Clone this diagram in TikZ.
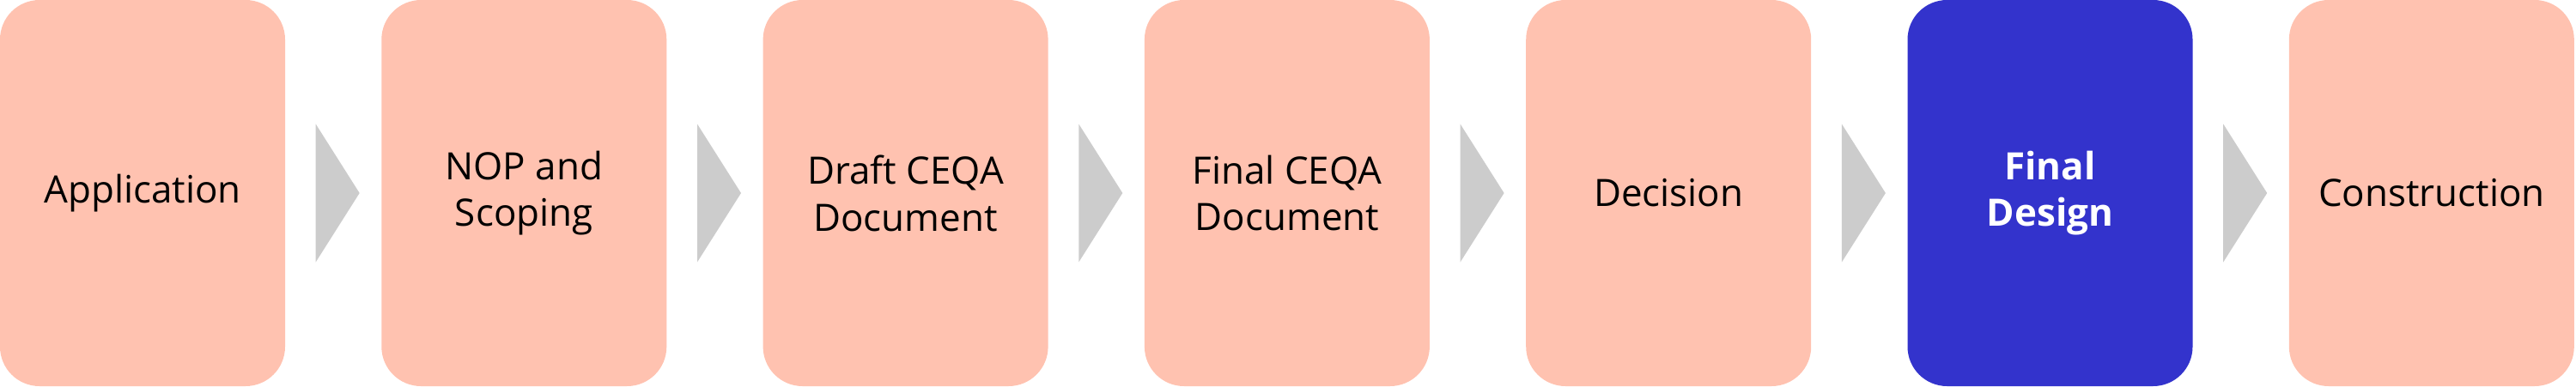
\documentclass[tikz,border=0pt]{standalone}
\usepackage{fontspec}
\setmainfont{Open Sans}
\usetikzlibrary{calc}
\usetikzlibrary{positioning}
\definecolor{stepPink}{HTML}{FFC2B0}
\definecolor{stepBlue}{HTML}{3333CC}
\definecolor{chevronGray}{HTML}{CCCCCC}
\tikzstyle{stepnode} = [rectangle, rounded corners=0.46cm, minimum width=3.32cm, minimum height=4.5cm, inner sep=0pt, align=center, font=\fontsize{12.5}{15.6}\selectfont]
\tikzstyle{colorStep} = [fill=stepPink, text=black]
\tikzstyle{colorNow} = [fill=stepBlue, text=white, font=\fontsize{12.5}{15.6}\selectfont\bfseries]
\tikzstyle{chevron} = [fill=chevronGray]

\begin{document}
\begin{tikzpicture}
\useasboundingbox (0,-2.25) rectangle (30,2.25);

\node[stepnode, colorStep] (application) at (1.66,0) {Application};
\node[stepnode, colorStep] (nop) at ($(application)+(4.443,0)$) {NOP and\\Scoping};
\node[stepnode, colorStep] (draft) at ($(nop)+(4.443,0)$) {Draft CEQA\\Document};
\node[stepnode, colorStep] (final) at ($(draft)+(4.443,0)$) {Final CEQA\\Document};
\node[stepnode, colorStep] (decision) at ($(final)+(4.443,0)$) {Decision};
\node[stepnode, colorNow] (design) at ($(decision)+(4.443,0)$) {Final\\Design};
\node[stepnode, colorStep] (construction) at ($(design)+(4.443,0)$) {Construction};

\fill[chevron] ($(application.east)+(0.35,0.805)$) -- ($(application.east)+(0.86,0)$) -- ($(application.east)+(0.35,-0.805)$) -- cycle;
\fill[chevron] ($(nop.east)+(0.35,0.805)$) -- ($(nop.east)+(0.86,0)$) -- ($(nop.east)+(0.35,-0.805)$) -- cycle;
\fill[chevron] ($(draft.east)+(0.35,0.805)$) -- ($(draft.east)+(0.86,0)$) -- ($(draft.east)+(0.35,-0.805)$) -- cycle;
\fill[chevron] ($(final.east)+(0.35,0.805)$) -- ($(final.east)+(0.86,0)$) -- ($(final.east)+(0.35,-0.805)$) -- cycle;
\fill[chevron] ($(decision.east)+(0.35,0.805)$) -- ($(decision.east)+(0.86,0)$) -- ($(decision.east)+(0.35,-0.805)$) -- cycle;
\fill[chevron] ($(design.east)+(0.35,0.805)$) -- ($(design.east)+(0.86,0)$) -- ($(design.east)+(0.35,-0.805)$) -- cycle;
\end{tikzpicture}
\end{document}
